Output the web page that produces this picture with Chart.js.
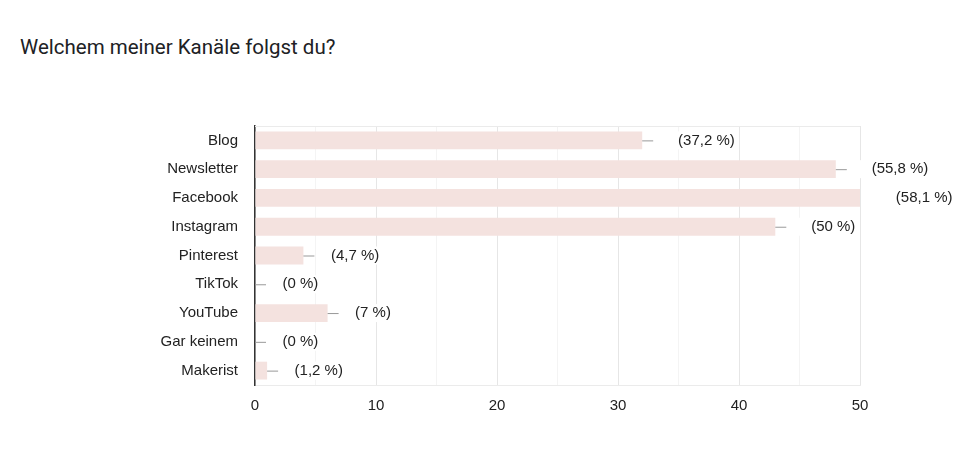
<!DOCTYPE html>
<html lang="de">
  <head>
    <meta charset="utf-8" />
    <title>Welchem meiner Kanäle folgst du?</title>
    <style>
      * {
        margin: 0;
        padding: 0;
      }
      body {
        width: 980px;
        height: 471px;
        background: #fff;
        position: relative;
        overflow: hidden;
      }
      .title {
        position: absolute;
        left: 20px;
        top: 35px;
        font-family: Roboto, sans-serif;
        font-size: 20.5px;
        color: #202124;
      }
      .chartBox {
        position: absolute;
        left: 0;
        top: 0;
        width: 980px;
        height: 471px;
      }
    </style>
  </head>
  <body>
    <div class="title">Welchem meiner Kanäle folgst du?</div>
    <div class="chartBox">
      <canvas id="myChart"></canvas>
    </div>

    <script src="https://cdn.jsdelivr.net/npm/chart.js@4.4.0/dist/chart.umd.min.js"></script>

    <script>
      // data block
      const categories = ["Blog", "Newsletter", "Facebook", "Instagram", "Pinterest", "TikTok", "YouTube", "Gar keinem", "Makerist"];
      const counts = [32, 48, 50, 43, 4, 0, 6, 0, 1];
      const pctLabels = ["37,2 %", "55,8 %", "58,1 %", "50 %", "4,7 %", "0 %", "7 %", "0 %", "1,2 %"];
      const xTicks = [0, 10, 20, 30, 40, 50];

      const FONT = "'Liberation Sans', Arial, sans-serif";

      // leader line + "(x %)" label after every bar
      const barLabels = {
        id: "barLabels",
        afterDatasetsDraw(chart) {
          const { ctx, chartArea } = chart;
          const meta = chart.getDatasetMeta(0);
          ctx.save();
          ctx.font = "15px " + FONT;
          ctx.textBaseline = "middle";
          meta.data.forEach((bar, i) => {
            const end = bar.x;
            const y = bar.y;
            // bars touching the right edge get no visible leader
            if (end < chartArea.right - 1) {
              ctx.strokeStyle = "#999999";
              ctx.lineWidth = 1;
              ctx.beginPath();
              ctx.moveTo(end, y + 0.5);
              ctx.lineTo(end + 11, y + 0.5);
              ctx.stroke();
            }

            // the count is written in white, as in the original export
            const countText = counts[i] + " ";
            const pctText = "(" + pctLabels[i] + ")";
            const x0 = end + 15;
            const wCount = ctx.measureText(countText).width;
            const wPct = ctx.measureText(pctText).width;
            ctx.fillStyle = "#ffffff";
            ctx.fillRect(x0 - 2, y - 9, wCount + wPct + 4, 18);
            ctx.fillText(countText, x0, y);
            ctx.fillStyle = "#222222";
            ctx.fillText(pctText, x0 + wCount, y);
          });
          ctx.restore();
        },
      };

      // thin frame line on top of the plot
      const topLine = {
        id: "topLine",
        beforeDatasetsDraw(chart) {
          const { ctx, chartArea } = chart;
          ctx.save();
          ctx.strokeStyle = "#ebebeb";
          ctx.lineWidth = 1;
          ctx.beginPath();
          ctx.moveTo(chartArea.left, chartArea.top + 0.5);
          ctx.lineTo(chartArea.right, chartArea.top + 0.5);
          ctx.stroke();
          ctx.restore();
        },
      };

      // config block
      const config = {
        type: "bar",
        data: {
          labels: categories,
          datasets: [
            {
              data: counts,
              backgroundColor: "#f4e2df",
              borderWidth: 0,
              barPercentage: 0.62,
              categoryPercentage: 1,
            },
          ],
        },
        options: {
          indexAxis: "y",
          responsive: true,
          maintainAspectRatio: false,
          animation: false,
          layout: {
            padding: { top: 126, right: 120, bottom: 0, left: 0 },
          },
          plugins: {
            legend: { display: false },
            tooltip: { enabled: false },
          },
          scales: {
            x: {
              min: 0,
              max: 50,
              afterFit(scale) {
                scale.height = 86;
              },
              afterBuildTicks(scale) {
                scale.ticks = [0, 5, 10, 15, 20, 25, 30, 35, 40, 45, 50].map((v) => ({ value: v }));
              },
              ticks: {
                color: "#222222",
                font: { family: FONT, size: 15 },
                padding: 12,
                maxRotation: 0,
                autoSkip: false,
                callback: (v) => (xTicks.includes(v) ? String(v) : ""),
              },
              grid: {
                color: (c) => (xTicks.includes(c.tick.value) ? "#e6e6e6" : "#f4f4f4"),
                drawTicks: false,
              },
              border: { display: true, color: "#ebebeb" },
            },
            y: {
              afterFit(scale) {
                scale.width = 255;
              },
              ticks: {
                color: "#222222",
                font: { family: FONT, size: 15 },
                padding: 17,
              },
              grid: { display: false, drawTicks: false },
              border: { display: true, color: "#333333", width: 1.5 },
            },
          },
        },
        plugins: [topLine, barLabels],
      };

      // init render block
      const myChart = new Chart(document.getElementById("myChart"), config);
    </script>
  </body>
</html>
